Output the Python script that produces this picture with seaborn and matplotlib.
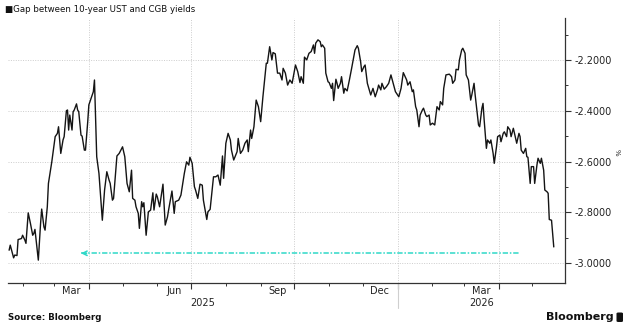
import matplotlib
matplotlib.use("Agg")
import matplotlib.pyplot as plt
import matplotlib.dates as mdates
import matplotlib.ticker as mticker
from matplotlib.patches import FancyBboxPatch
import numpy as np
import pandas as pd
import seaborn as sns

# ---- data -------------------------------------------------------------
start_date = "2025-01-20"

# calendar days after start_date
days = [
    0, 1, 4, 5, 7, 8, 11, 12, 14, 15, 17, 19, 21, 22, 23, 24, 26, 28, 29, 31,
    32, 34, 35, 38, 40, 41, 43, 44, 45, 46, 48, 49, 51, 52, 53, 54, 56, 57, 58, 60,
    61, 62, 64, 65, 67, 68, 70, 71, 73, 75, 76, 78, 80, 83, 85, 87, 89, 90, 92, 93,
    96, 98, 101, 103, 105, 107, 109, 110, 112, 113, 115, 116, 118, 119, 120, 122, 124, 126, 128, 129,
    131, 132, 134, 137, 139, 141, 142, 145, 147, 148, 151, 153, 156, 158, 160, 161, 163, 165, 166, 168,
    170, 172, 173, 176, 177, 179, 182, 184, 186, 188, 190, 191, 193, 195, 197, 198, 200, 203, 204, 206,
    208, 210, 212, 213, 215, 216, 218, 220, 222, 224, 226, 229, 230, 232, 234, 235, 237, 239, 241, 243,
    244, 246, 248, 250, 252, 255, 257, 259, 260, 262, 263, 265, 267, 269, 271, 272, 273, 275, 277, 278,
    279, 281, 282, 284, 285, 287, 288, 289, 291, 292, 293, 295, 296, 298, 299, 301, 303, 305, 308, 310,
    311, 313, 314, 316, 317, 319, 322, 324, 326, 328, 329, 331, 332, 334, 336, 338, 340, 342, 344, 347,
    349, 351, 354, 355, 357, 359, 360, 362, 363, 365, 366, 368, 369, 371, 372, 374, 375, 377, 379, 381,
    383, 384, 386, 387, 389, 392, 394, 395, 397, 398, 400, 401, 403, 404, 406, 407, 409, 411, 412, 414,
    415, 418, 419, 421, 422, 423, 425, 426, 428, 429, 431, 432, 434, 435, 437, 438, 440, 441, 443, 444,
    446, 447, 449, 450, 452, 454, 455, 456, 458, 460, 461, 462, 464, 465, 467, 468, 470, 471, 473, 474,
    476, 477, 479, 480, 481, 483, 485,
]

# 10-year UST minus CGB yield gap, %
gap = [
    -2.949, -2.929, -2.979, -2.968, -2.970, -2.907, -2.903, -2.890, -2.909, -2.922,
    -2.802, -2.844, -2.890, -2.883, -2.867, -2.907, -2.988, -2.844, -2.787, -2.857,
    -2.870, -2.778, -2.686, -2.601, -2.535, -2.502, -2.489, -2.463, -2.515, -2.568,
    -2.515, -2.502, -2.400, -2.397, -2.476, -2.417, -2.476, -2.404, -2.397, -2.373,
    -2.397, -2.404, -2.496, -2.500, -2.555, -2.555, -2.443, -2.377, -2.351, -2.325,
    -2.279, -2.581, -2.647, -2.831, -2.712, -2.640, -2.673, -2.686, -2.752, -2.745,
    -2.578, -2.568, -2.542, -2.581, -2.686, -2.719, -2.634, -2.745, -2.752, -2.778,
    -2.804, -2.863, -2.758, -2.778, -2.762, -2.890, -2.798, -2.791, -2.723, -2.791,
    -2.728, -2.739, -2.778, -2.689, -2.850, -2.818, -2.791, -2.716, -2.804, -2.758,
    -2.752, -2.732, -2.647, -2.601, -2.614, -2.583, -2.607, -2.699, -2.712, -2.745,
    -2.689, -2.693, -2.752, -2.828, -2.798, -2.788, -2.660, -2.660, -2.653, -2.693,
    -2.578, -2.666, -2.528, -2.489, -2.515, -2.555, -2.594, -2.561, -2.509, -2.568,
    -2.555, -2.528, -2.515, -2.561, -2.476, -2.509, -2.463, -2.358, -2.384, -2.443,
    -2.345, -2.213, -2.213, -2.148, -2.200, -2.171, -2.176, -2.252, -2.252, -2.279,
    -2.233, -2.252, -2.299, -2.279, -2.292, -2.220, -2.246, -2.289, -2.266, -2.292,
    -2.189, -2.200, -2.174, -2.167, -2.141, -2.174, -2.134, -2.121, -2.128, -2.148,
    -2.141, -2.154, -2.252, -2.286, -2.289, -2.312, -2.292, -2.360, -2.276, -2.292,
    -2.312, -2.292, -2.266, -2.331, -2.312, -2.322, -2.279, -2.233, -2.161, -2.144,
    -2.154, -2.207, -2.246, -2.226, -2.220, -2.292, -2.338, -2.312, -2.345, -2.318,
    -2.299, -2.318, -2.292, -2.315, -2.305, -2.292, -2.259, -2.292, -2.325, -2.345,
    -2.312, -2.250, -2.279, -2.299, -2.286, -2.325, -2.318, -2.384, -2.397, -2.463,
    -2.417, -2.397, -2.390, -2.417, -2.423, -2.417, -2.456, -2.449, -2.456, -2.384,
    -2.397, -2.364, -2.377, -2.312, -2.259, -2.256, -2.266, -2.292, -2.279, -2.237,
    -2.239, -2.200, -2.161, -2.154, -2.174, -2.259, -2.279, -2.358, -2.338, -2.292,
    -2.338, -2.456, -2.463, -2.390, -2.371, -2.436, -2.548, -2.515, -2.528, -2.515,
    -2.568, -2.607, -2.542, -2.502, -2.496, -2.522, -2.489, -2.483, -2.502, -2.463,
    -2.476, -2.502, -2.469, -2.489, -2.528, -2.489, -2.502, -2.555, -2.568, -2.548,
    -2.581, -2.583, -2.686, -2.620, -2.620, -2.686, -2.614, -2.587, -2.607, -2.587,
    -2.634, -2.712, -2.719, -2.725, -2.828, -2.831, -2.936,
]

# reference level marker
marker_level = -2.961
marker_from = "2026-04-20"
marker_to = "2025-03-25"

month_labels = ["Mar", "Jun", "Sep", "Dec", "Mar"]
month_label_dates = ["2025-03-16", "2025-06-16", "2025-09-16", "2025-12-16", "2026-03-16"]
year_labels = ["2025", "2026"]

title = "\u25a0Gap between 10-year UST and CGB yields"
source = "Source: Bloomberg"

# ---- frame ------------------------------------------------------------
dates = pd.Timestamp(start_date) + pd.to_timedelta(days, unit="D")
df = pd.DataFrame({"date": dates, "gap": gap})

sns.set_theme(style="white")
plt.rcParams["font.family"] = ["DejaVu Sans"]
plt.rcParams["axes.unicode_minus"] = False

W, H = 624, 327
fig = plt.figure(figsize=(W / 100, H / 100), dpi=100)
fig.patch.set_facecolor("white")

ax_left, ax_right, ax_top, ax_bot = 8, 565, 18, 283
ax = fig.add_axes([ax_left / W, 1 - ax_bot / H,
                   (ax_right - ax_left) / W, (ax_bot - ax_top) / H])
ax.set_facecolor("white")

sns.lineplot(data=df, x="date", y="gap", ax=ax, color="#141414",
             linewidth=1.0, legend=False)

x0 = pd.Timestamp(start_date) - pd.Timedelta(days=1)
x1 = pd.Timestamp(start_date) + pd.Timedelta(days=495)
ax.set_xlim(x0, x1)
ax.set_ylim(-3.078, -2.035)
ax.set_xlabel("")
ax.set_ylabel("")

# spines
for side in ("top", "left"):
    ax.spines[side].set_visible(False)
for side in ("bottom", "right"):
    ax.spines[side].set_visible(True)
    ax.spines[side].set_color("#333333")
    ax.spines[side].set_linewidth(0.9)

# y axis on the right
ax.yaxis.tick_right()
ax.yaxis.set_major_locator(mticker.MultipleLocator(0.2))
ax.yaxis.set_minor_locator(mticker.MultipleLocator(0.1))
ax.yaxis.set_major_formatter(mticker.FuncFormatter(lambda v, p: f"{v:.4f}"))
ax.tick_params(axis="y", which="major", right=True, left=False, length=4.5,
               width=0.8, color="#333333", labelsize=7, labelcolor="#222222", pad=2)
ax.tick_params(axis="y", which="minor", right=True, left=False, length=2.5,
               width=0.7, color="#333333")

# x axis: quarterly gridlines, monthly ticks, labels mid-month
ax.xaxis.set_major_locator(mdates.MonthLocator(bymonth=[1, 4, 7, 10]))
ax.xaxis.set_minor_locator(mdates.MonthLocator())
ax.xaxis.set_major_formatter(mticker.NullFormatter())
ax.tick_params(axis="x", which="major", bottom=True, length=4, width=0.8,
               color="#333333")
ax.tick_params(axis="x", which="minor", bottom=True, length=2.5, width=0.7,
               color="#333333")

ax.grid(True, which="major", axis="both", color="#cccccc", linestyle=(0, (1, 1.5)),
        linewidth=0.7)
ax.set_axisbelow(True)

xt = ax.get_xaxis_transform()
for lab, d in zip(month_labels, month_label_dates):
    ax.text(pd.Timestamp(d), -0.032, lab, transform=xt, ha="center", va="center",
            fontsize=7, color="#222222")

sep = pd.Timestamp("2026-01-01")
ax.plot([sep, sep], [0, -0.095], transform=xt, color="#cfcfcf", linewidth=0.8,
        clip_on=False)
ax.text(x0 + (sep - x0) / 2, -0.076, year_labels[0], transform=xt, ha="center",
        va="center", fontsize=7, color="#222222")
ax.text(sep + (x1 - sep) / 2, -0.076, year_labels[1], transform=xt, ha="center",
        va="center", fontsize=7, color="#222222")

# level marker with arrow
cyan = "#2fd8c8"
m_from, m_to = pd.Timestamp(marker_from), pd.Timestamp(marker_to)
ax.plot([m_to, m_from], [marker_level, marker_level], color=cyan, linewidth=1.1,
        linestyle=(0, (3.5, 1.2, 1, 1.2)))
ax.annotate("", xy=(m_to, marker_level),
            xytext=(m_to + pd.Timedelta(days=5), marker_level),
            arrowprops=dict(arrowstyle="->", color=cyan, lw=1.1,
                            mutation_scale=8, shrinkA=0, shrinkB=0))

# unit label
ax.text(1.093, 0.494, "%", transform=ax.transAxes, rotation=-90, ha="center",
        va="center", fontsize=5, color="#222222")

# header / footer
fig.text(5 / W, 1 - 9 / H, title, ha="left", va="center", fontsize=6.2,
         color="#111111")
fig.text(8 / W, 1 - 318 / H, source, ha="left", va="center", fontsize=6.2,
         fontweight="bold", color="#111111")
fig.text(614 / W, 1 - 317 / H, "Bloomberg", ha="right", va="center", fontsize=8,
         fontweight="bold", color="#111111")
fig.patches.append(FancyBboxPatch((616.5 / W, 1 - 322 / H), 6.5 / W, 9.5 / H,
                                  boxstyle="round,pad=0,rounding_size=0.003",
                                  transform=fig.transFigure, facecolor="#111111",
                                  edgecolor="none"))

fig.savefig("out.png", dpi=100, facecolor="white")
